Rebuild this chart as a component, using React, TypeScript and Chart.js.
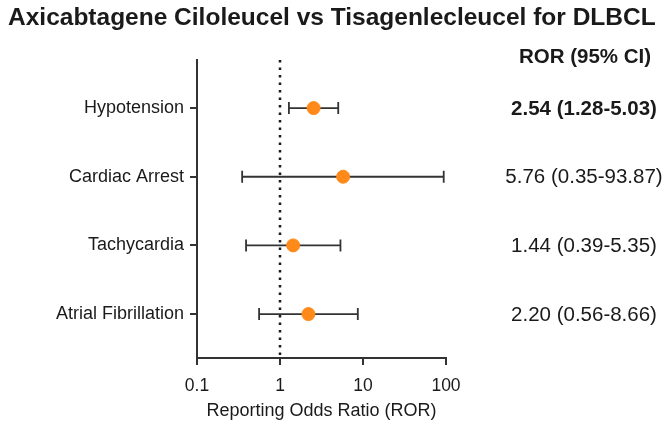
import React, { useEffect, useRef } from "react";
import { Chart, registerables } from "chart.js";

Chart.register(...registerables);

const categories = ["Hypotension", "Cardiac Arrest", "Tachycardia", "Atrial Fibrillation"];
const ror = [2.54, 5.76, 1.44, 2.2];
const lower = [1.28, 0.35, 0.39, 0.56];
const upper = [5.03, 93.87, 5.35, 8.66];
const rorLabels = ["2.54 (1.28-5.03)", "5.76 (0.35-93.87)", "1.44 (0.39-5.35)", "2.20 (0.56-8.66)"];
const boldRows = [true, false, false, false];
const xTicks = [0.1, 1, 10, 100];
const referenceLine = 1;
const titleText = "Axicabtagene Ciloleucel vs Tisagenlecleucel for DLBCL";
const headerText = "ROR (95% CI)";
const xTitle = "Reporting Odds Ratio (ROR)";

const FONT = "'Liberation Sans', Arial, sans-serif";
const INK = "#1a1a1a";

const forestPlugin = {
  id: "forest",
  beforeDatasetsDraw(chart: any) {
    const { ctx, chartArea, scales } = chart;
    const xs = scales.x;
    const ys = scales.y;
    ctx.save();
    const rx = xs.getPixelForValue(referenceLine);
    ctx.strokeStyle = INK;
    ctx.lineWidth = 2.5;
    ctx.setLineDash([2.5, 5]);
    ctx.beginPath();
    ctx.moveTo(rx, chartArea.top);
    ctx.lineTo(rx, chartArea.bottom);
    ctx.stroke();
    ctx.setLineDash([]);
    ctx.strokeStyle = "#333";
    ctx.lineWidth = 1.8;
    categories.forEach((_, i) => {
      const y = ys.getPixelForValue(i + 1);
      const x1 = xs.getPixelForValue(lower[i]);
      const x2 = xs.getPixelForValue(upper[i]);
      ctx.beginPath();
      ctx.moveTo(x1, y);
      ctx.lineTo(x2, y);
      ctx.moveTo(x1, y - 6);
      ctx.lineTo(x1, y + 6);
      ctx.moveTo(x2, y - 6);
      ctx.lineTo(x2, y + 6);
      ctx.stroke();
    });
    ctx.restore();
  },
  afterDraw(chart: any) {
    const { ctx, scales } = chart;
    const ys = scales.y;
    ctx.save();
    ctx.fillStyle = INK;
    ctx.textBaseline = "alphabetic";
    ctx.textAlign = "left";
    ctx.font = `bold 24.5px ${FONT}`;
    ctx.fillText(titleText, 8, 25);
    ctx.textAlign = "center";
    ctx.font = `bold 20.5px ${FONT}`;
    ctx.fillText(headerText, 585, 63);
    ctx.textBaseline = "middle";
    rorLabels.forEach((t, i) => {
      const y = ys.getPixelForValue(i + 1);
      ctx.font = `${boldRows[i] ? "bold " : ""}20.5px ${FONT}`;
      ctx.fillText(t, 584, y + 1);
    });
    ctx.restore();
  },
};

export default function App() {
  const ref = useRef<HTMLCanvasElement>(null);
  useEffect(() => {
    document.body.style.margin = "0";
    const chart = new Chart(ref.current!, {
      type: "scatter",
      data: {
        datasets: [
          {
            data: ror.map((v, i) => ({ x: v, y: i + 1 })),
            backgroundColor: "#ff8a1a",
            borderColor: "#ff8a1a",
            pointRadius: 6.5,
            pointHoverRadius: 6.5,
          },
        ],
      },
      options: {
        animation: false,
        responsive: true,
        maintainAspectRatio: false,
        layout: { padding: { top: 60, right: 220, left: 0, bottom: 0 } },
        plugins: { legend: { display: false }, tooltip: { enabled: false }, title: { display: false } },
        scales: {
          x: {
            type: "logarithmic",
            min: 0.1,
            max: 100,
            afterBuildTicks: (s: any) => {
              s.ticks = xTicks.map((v) => ({ value: v }));
            },
            afterFit: (s: any) => {
              s.height = 78;
            },
            ticks: {
              color: INK,
              font: { family: FONT, size: 17.5 },
              padding: 11,
              maxRotation: 0,
              autoSkip: false,
              callback: (v: any) => String(v),
            },
            grid: { display: true, drawOnChartArea: false, drawTicks: true, tickLength: 7, color: "#333", lineWidth: 2 },
            border: { display: true, color: "#333", width: 2 },
            title: {
              display: true,
              text: xTitle,
              color: INK,
              font: { family: FONT, size: 18 },
              padding: { top: 4, bottom: 14 },
            },
          },
          y: {
            type: "linear",
            reverse: true,
            min: 0.3,
            max: 4.64,
            afterBuildTicks: (s: any) => {
              s.ticks = categories.map((_, i) => ({ value: i + 1 }));
            },
            afterFit: (s: any) => {
              s.width = 197;
            },
            ticks: {
              color: INK,
              font: { family: FONT, size: 18 },
              padding: 6,
              autoSkip: false,
              callback: (v: any) => categories[Math.round(v) - 1] ?? "",
            },
            grid: { display: true, drawOnChartArea: false, drawTicks: true, tickLength: 7, color: "#333", lineWidth: 2 },
            border: { display: true, color: "#333", width: 2 },
          },
        },
      },
      plugins: [forestPlugin],
    });
    return () => chart.destroy();
  }, []);
  return (
    <div style={{ width: 666, height: 436, position: "relative" }}>
      <canvas ref={ref} />
    </div>
  );
}
